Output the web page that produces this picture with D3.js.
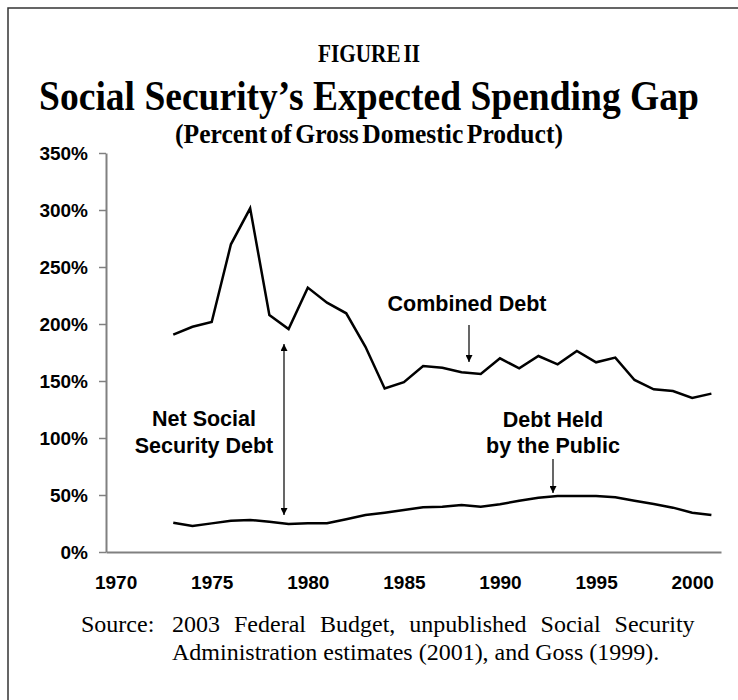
<!DOCTYPE html>
<html><head><meta charset="utf-8">
<script src="https://cdn.jsdelivr.net/npm/d3@7/dist/d3.min.js"></script>
<style>body{margin:0;background:#fff}svg{display:block}</style>
</head><body>
<script>
const years = d3.range(1973, 2002);
const combinedDebt = [190.6,197.6,201.8,269.9,301.5,207.9,195.6,231.9,218.7,209.4,180.0,143.5,149.0,163.2,161.7,157.6,156.1,169.9,161.1,171.9,164.6,176.3,166.4,170.5,150.9,142.7,141.2,135.1,138.9];
const publicDebt = [25.7,22.8,25.1,27.5,28.1,26.6,24.6,25.2,25.2,28.7,32.5,34.5,36.8,39.2,39.8,41.2,39.8,41.8,45.0,47.6,49.1,49.1,49.1,48.0,45.0,42.1,38.9,34.5,32.5];
const yTicks = [0,50,100,150,200,250,300,350];
const xTicks = [1970,1975,1980,1985,1990,1995,2000];
const titles = ["FIGURE II","Social Security\u2019s Expected Spending Gap","(Percent of Gross Domestic Product)"];
const sourceLabel = "Source:";
const sourceLines = ["2003 Federal Budget, unpublished Social Security","Administration estimates (2001), and Goss (1999)."];

const W = 738, H = 700;
const svg = d3.select("body").append("svg").attr("width", W).attr("height", H);

// frame
svg.append("path").attr("d", "M8,700V8H738").attr("fill","none").attr("stroke","#333").attr("stroke-width",1.5);

const x = d3.scaleLinear().domain([1969.5, 2001.5]).range([106, 721]);
const y = d3.scaleLinear().domain([0, 350]).range([552, 153]);

// titles (condensed serif, scaled horizontally to the target width)
const serif = "'Liberation Serif','Times New Roman',serif";
function condensed(txt, cx, by, size, width, ws){
  const g = svg.append("g");
  const t = g.append("text").attr("x",0).attr("y",0).attr("text-anchor","middle")
    .attr("font-family",serif).attr("font-weight","bold").attr("font-size",size)
    .attr("word-spacing",ws||0).text(txt);
  const nat = t.node().getComputedTextLength();
  const sx = Math.min(1, width / nat);
  g.attr("transform",`translate(${cx},${by}) scale(${sx},1)`);
}
condensed(titles[0],369,62,26,102,-3);
condensed(titles[1],369,110,42,660,0);
condensed(titles[2],369,143,27,388,-3);

const sans = "'Liberation Sans',Arial,sans-serif";
// y axis
const gy = svg.append("g").attr("transform","translate(106,0)")
  .call(d3.axisLeft(y).tickValues(yTicks).tickSize(7).tickSizeOuter(0).tickPadding(11).tickFormat(d=>d+"%"));
gy.select(".domain").attr("stroke","#808080").attr("stroke-width",2);
gy.selectAll(".tick line").attr("stroke","#808080").attr("stroke-width",1.5);
gy.selectAll(".tick text").attr("font-family",sans).attr("font-weight","bold").attr("font-size",19).attr("fill","#000");

// x axis
const gx = svg.append("g").attr("transform","translate(0,552)")
  .call(d3.axisBottom(x).tickValues(xTicks).tickSize(0).tickSizeOuter(0).tickPadding(24).tickFormat(d3.format("d")));
gx.select(".domain").attr("stroke","#808080").attr("stroke-width",2);
gx.selectAll(".tick text").attr("font-family",sans).attr("font-weight","bold").attr("font-size",19).attr("fill","#000");

// lines
const line = d3.line().x((d,i)=>x(years[i])).y(d=>y(d));
svg.append("path").datum(combinedDebt).attr("d",line).attr("fill","none").attr("stroke","#000").attr("stroke-width",2.5);
svg.append("path").datum(publicDebt).attr("d",line).attr("fill","none").attr("stroke","#000").attr("stroke-width",2.5);

// arrows
const defs = svg.append("defs");
defs.append("marker").attr("id","ah").attr("viewBox","0 0 10 10").attr("refX",10).attr("refY",5)
  .attr("markerWidth",9).attr("markerHeight",7).attr("markerUnits","userSpaceOnUse").attr("orient","auto-start-reverse")
  .append("path").attr("d","M0,0L10,5L0,10Z").attr("fill","#000");

function arrow(x0,y0,x1,y1,both){
  const p = svg.append("line").attr("x1",x0).attr("y1",y0).attr("x2",x1).attr("y2",y1)
    .attr("stroke","#000").attr("stroke-width",1.2).attr("marker-end","url(#ah)");
  if(both) p.attr("marker-start","url(#ah)");
}
arrow(469,325,469,362,false);
arrow(284,344,284,515,true);
arrow(553,459,553,493,false);

function label(lines, cx, y0){
  lines.forEach((t,i)=>{
    svg.append("text").attr("x",cx).attr("y",y0+i*26.5).attr("text-anchor","middle")
      .attr("font-family",sans).attr("font-weight","bold").attr("font-size",21.5).text(t);
  });
}
label(["Combined Debt"],467,311);
label(["Net Social","Security Debt"],204,426);
label(["Debt Held","by the Public"],553,426.5);

// source
svg.append("text").attr("x",81).attr("y",632).attr("font-family",serif).attr("font-size",24).text(sourceLabel);
svg.append("text").attr("x",172).attr("y",632).attr("font-family",serif).attr("font-size",24)
  .attr("word-spacing",8).text(sourceLines[0]);
svg.append("text").attr("x",172).attr("y",660).attr("font-family",serif).attr("font-size",24).text(sourceLines[1]);
</script>
</body></html>
